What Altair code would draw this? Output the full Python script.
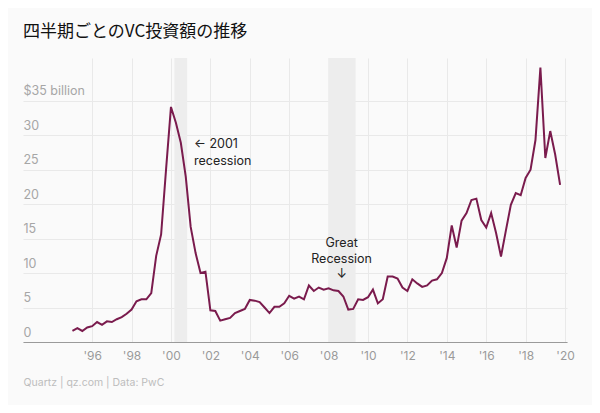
import altair as alt
import pandas as pd

# Quarterly VC investment, 1995 Q1 - 2019 Q4 ($ billion)
years = [1995, 1996, 1997, 1998, 1999, 2000, 2001, 2002, 2003, 2004, 2005, 2006, 2007,
         2008, 2009, 2010, 2011, 2012, 2013, 2014, 2015, 2016, 2017, 2018, 2019]
values = [
    1.6, 2.0, 1.6, 2.1,      # 1995
    2.3, 2.9, 2.5, 3.0,      # 1996
    2.9, 3.3, 3.6, 4.1,      # 1997
    4.7, 5.9, 6.2, 6.2,      # 1998
    7.1, 12.5, 15.6, 25.0,   # 1999
    34.1, 31.8, 28.9, 24.0,  # 2000
    16.7, 12.9, 10.0, 10.2,  # 2001
    4.6, 4.5, 3.1, 3.3,      # 2002
    3.5, 4.2, 4.5, 4.8,      # 2003
    6.1, 6.0, 5.8, 5.0,      # 2004
    4.2, 5.1, 5.1, 5.6,      # 2005
    6.7, 6.3, 6.6, 6.2,      # 2006
    8.2, 7.4, 7.9, 7.6,      # 2007
    7.8, 7.5, 7.4, 6.6,      # 2008
    4.7, 4.8, 6.2, 6.1,      # 2009
    6.5, 7.6, 5.6, 6.2,      # 2010
    9.5, 9.5, 9.2, 7.9,      # 2011
    7.4, 9.1, 8.5, 8.0,      # 2012
    8.2, 8.9, 9.1, 10.0,     # 2013
    12.2, 16.9, 13.7, 17.6,  # 2014
    18.7, 20.6, 20.8, 17.7,  # 2015
    16.6, 18.7, 15.8, 12.4,  # 2016
    16.2, 19.9, 21.6, 21.3,  # 2017
    23.8, 25.0, 29.3, 39.8,  # 2018
    26.7, 30.6, 27.2, 22.8,  # 2019
]
quarter_time = [y + q / 4 for y in years for q in range(4)]

# Recession shading (decimal years as drawn)
rec_start = [2000.17, 2007.98]
rec_end = [2000.82, 2009.37]

# Annotations
ann_left_text = ["← 2001", "recession"]
ann_left_x = [2001.17, 2001.17]
ann_left_y = [28.7, 26.3]
ann_center_text = ["Great", "Recession", "↓"]
ann_center_x = [2008.66, 2008.66, 2008.66]
ann_center_y = [14.4, 12.0, 9.8]

x_ticks = list(range(1996, 2021, 2))
y_ticks = [0, 5, 10, 15, 20, 25, 30, 35]

df = pd.DataFrame({"t": quarter_time, "v": values})
rec = pd.DataFrame({"s": rec_start, "e": rec_end})
ann_l = pd.DataFrame({"x": ann_left_x, "y": ann_left_y, "text": ann_left_text})
ann_c = pd.DataFrame({"x": ann_center_x, "y": ann_center_y, "text": ann_center_text})

FONT = "Inter"
W, H = 544, 284

xscale = alt.Scale(domain=[1992.49, 2020.1], nice=False, zero=False)
yscale = alt.Scale(domain=[0, 41.2], nice=False)

x_axis = alt.Axis(
    values=x_ticks,
    labelExpr="\"'\" + slice(toString(datum.value), 2)",
    grid=True, gridColor="#e9e9e9", gridWidth=1,
    ticks=False, domain=True, domainColor="#9a9a9a", domainWidth=1.2,
    labelColor="#9a9a9a", labelFontSize=12, labelFont=FONT, labelPadding=8,
    title="Quartz | qz.com | Data: PwC",
    titleFont=FONT, titleFontSize=10.5, titleFontWeight="normal", titleColor="#bdbdbd",
    titleAnchor="start", titleAlign="left", titleBaseline="middle",
    titleX=0, titleY=40,
)
y_axis = alt.Axis(
    values=y_ticks,
    labelExpr="datum.value == 35 ? '$35 billion' : datum.label",
    grid=True, gridColor="#e9e9e9", gridWidth=1,
    ticks=False, domain=False,
    labelAlign="left", labelBaseline="bottom", labelPadding=0, labelOffset=-3,
    labelColor="#a6a6a6", labelFontSize=12.5, labelFont=FONT,
    title=None,
)

bands = alt.Chart(rec).mark_rect(color="#ededed").encode(
    x=alt.X("s:Q", scale=xscale, axis=x_axis),
    x2="e:Q",
)

line = alt.Chart(df).mark_line(color="#7a1b4d", strokeWidth=2, strokeJoin="miter").encode(
    x=alt.X("t:Q", scale=xscale, axis=x_axis),
    y=alt.Y("v:Q", scale=yscale, axis=y_axis),
)

txt_l = alt.Chart(ann_l).mark_text(align="left", baseline="middle", font=FONT,
                                   fontSize=12.5, color="#222222").encode(
    x=alt.X("x:Q", scale=xscale), y=alt.Y("y:Q", scale=yscale), text="text:N")
txt_c = alt.Chart(ann_c).mark_text(align="center", baseline="middle", font=FONT,
                                   fontSize=12.5, color="#222222").encode(
    x=alt.X("x:Q", scale=xscale), y=alt.Y("y:Q", scale=yscale), text="text:N")

chart = alt.layer(bands, line, txt_l, txt_c).properties(
    width=W, height=H,
    autosize=alt.AutoSizeParams(type="none"),
    padding={"left": 15, "top": 50, "right": 25, "bottom": 63},
    background="#fafafa",
    title=alt.TitleParams(
        "四半期ごとのVC投資額の推移",
        anchor="start", frame="group", font="Noto Sans CJK JP",
        fontSize=17, fontWeight="normal", color="#111111", offset=17,
    ),
).configure_view(stroke=None)

chart.save("out.html", embed_options={"renderer": "svg", "actions": False})
